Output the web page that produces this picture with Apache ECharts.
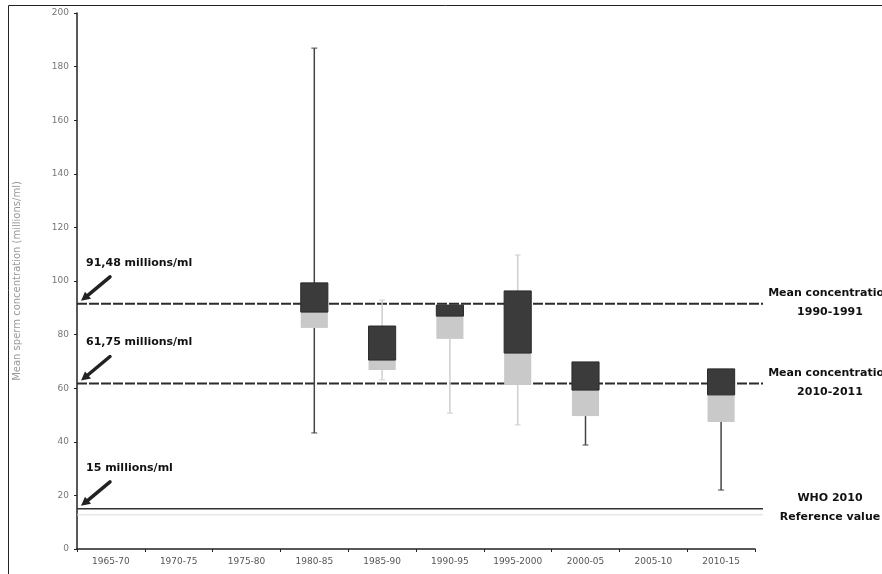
<!DOCTYPE html>
<html>
<head>
<meta charset="utf-8">
<script src="https://cdn.jsdelivr.net/npm/echarts@6/dist/echarts.min.js"></script>
<style>
  html, body { margin: 0; padding: 0; background: #fff; }
  #chart { width: 882px; height: 574px; }
</style>
</head>
<body>
<div id="chart"></div>
<script>
// Period categories on the x axis
const periods = ['1965-70', '1970-75', '1975-80', '1980-85', '1985-90', '1990-95', '1995-2000', '2000-05', '2005-10', '2010-15'];

// Box statistics per period (millions/ml)
const boxPeriods    = ['1980-85', '1985-90', '1990-95', '1995-2000', '2000-05', '2010-15'];
const minValues     = [43.3, 63.1, 50.7, 46.3, 38.8, 22.0];
const lowerQuartile = [82.5, 66.8, 78.4, 61.2, 49.6, 47.4];
const medians       = [88.4, 70.5, 86.9, 73.1, 59.3, 57.5];
const upperQuartile = [99.3, 83.2, 91.0, 96.3, 69.8, 67.2];
const maxValues     = [186.9, 92.9, 91.0, 109.7, 69.8, 67.2];

// Reference concentrations
const refValues = [91.48, 61.75, 15];
const refNotes  = ['91,48 millions/ml', '61,75 millions/ml', '15 millions/ml'];
const refTitles = ['Mean concentration\n1990-1991', 'Mean concentration\n2010-2011', 'WHO 2010\nReference value'];

// Y axis ticks
const yTicks = { min: 0, max: 200, interval: 20 };

// Whisker shade per box
const whiskerShade = ['dark', 'light', 'light', 'light', 'dark', 'dark'];

const DARK = '#3b3b3b';
const LIGHT = '#c9c9c9';

const boxData = boxPeriods.map((p, i) => [p, minValues[i], lowerQuartile[i], medians[i], upperQuartile[i], maxValues[i]]);

function renderBox(params, api) {
  const xIdx = api.value(0);
  const vMin = api.value(1), q1 = api.value(2), med = api.value(3), q3 = api.value(4), vMax = api.value(5);
  const pMin = api.coord([xIdx, vMin]);
  const pQ1 = api.coord([xIdx, q1]);
  const pMed = api.coord([xIdx, med]);
  const pQ3 = api.coord([xIdx, q3]);
  const pMax = api.coord([xIdx, vMax]);
  const w = api.size([1, 0])[0] * 0.4;
  const cx = pMed[0];
  const shade = whiskerShade[params.dataIndex] === 'dark' ? '#444' : '#cfcfcf';
  const children = [];
  // lower whisker
  if (pMin[1] - pQ1[1] > 1) {
    children.push({ type: 'line', shape: { x1: cx, y1: pQ1[1], x2: cx, y2: pMin[1] }, style: { stroke: shade, lineWidth: 1.5 } });
    children.push({ type: 'line', shape: { x1: cx - 3, y1: pMin[1], x2: cx + 3, y2: pMin[1] }, style: { stroke: shade, lineWidth: 1 } });
  }
  // upper whisker
  if (pQ3[1] - pMax[1] > 1) {
    children.push({ type: 'line', shape: { x1: cx, y1: pQ3[1], x2: cx, y2: pMax[1] }, style: { stroke: shade, lineWidth: 1.5 } });
    children.push({ type: 'line', shape: { x1: cx - 3, y1: pMax[1], x2: cx + 3, y2: pMax[1] }, style: { stroke: shade, lineWidth: 1 } });
  }
  // lower half of box (Q1 to median)
  children.push({ type: 'rect', shape: { x: cx - w / 2, y: pMed[1], width: w, height: pQ1[1] - pMed[1] }, style: { fill: LIGHT } });
  // upper half of box (median to Q3)
  children.push({ type: 'rect', shape: { x: cx - w / 2, y: pQ3[1], width: w, height: pMed[1] - pQ3[1] }, style: { fill: DARK, stroke: '#2a2a2a', lineWidth: 1 } });
  return { type: 'group', children };
}

function renderRef(params, api) {
  const value = api.value(1);
  const cs = params.coordSys;
  const y = api.coord([0, value])[1];
  const i = params.dataIndex;
  const x0 = cs.x;
  const x1 = cs.x + cs.width + 8;
  const children = [];
  if (i < 2) {
    children.push({ type: 'line', shape: { x1: x0, y1: y, x2: x1, y2: y }, style: { stroke: '#2b2b2b', lineWidth: 2, lineDash: [10, 2] } });
  } else {
    children.push({ type: 'line', shape: { x1: x0, y1: y, x2: x1, y2: y }, style: { stroke: '#333', lineWidth: 1.5 } });
    children.push({ type: 'line', shape: { x1: x0, y1: y + 6, x2: x1, y2: y + 6 }, style: { stroke: '#dddddd', lineWidth: 1 } });
  }
  // arrow pointing at the line
  children.push({ type: 'line', shape: { x1: x0 + 33, y1: y - 27, x2: x0 + 9, y2: y - 7 }, style: { stroke: '#222', lineWidth: 3.5, lineCap: 'round' } });
  children.push({ type: 'polygon', shape: { points: [[x0 + 4, y - 3], [x0 + 8, y - 12], [x0 + 14, y - 5]] }, style: { fill: '#222' } });
  children.push({ type: 'text', x: x0 + 9, y: y - 41, style: { text: refNotes[i], fill: '#111', font: 'bold 11px "DejaVu Sans"', textAlign: 'left', textVerticalAlign: 'middle' } });
  children.push({ type: 'text', x: x1 + 67, y: y - 1, style: { text: refTitles[i], fill: '#111', font: 'bold 11px "DejaVu Sans"', textAlign: 'center', textVerticalAlign: 'middle', lineHeight: 19 } });
  return { type: 'group', children };
}

const chart = echarts.init(document.getElementById('chart'), null, { renderer: 'canvas' });
chart.setOption({
  backgroundColor: '#fff',
  animation: false,
  graphic: [{
    type: 'rect', left: 6, top: 3, z: 100, silent: true,
    shape: { width: 874, height: 600 },
    style: { fill: 'none', stroke: '#222', lineWidth: 1 }
  }],
  grid: { left: 77, right: 127, top: 13, bottom: 25, containLabel: false },
  xAxis: {
    type: 'category',
    data: periods,
    axisLine: { lineStyle: { color: '#222', width: 1.5 } },
    axisTick: { show: true, length: 3, lineStyle: { color: '#222' } },
    axisLabel: { color: '#555', fontSize: 9, margin: 8, fontFamily: 'DejaVu Sans', interval: 0 },
    splitLine: { show: false }
  },
  yAxis: {
    type: 'value',
    min: yTicks.min, max: yTicks.max, interval: yTicks.interval,
    name: 'Mean sperm concentration (millions/ml)',
    nameLocation: 'middle',
    nameGap: 55,
    nameTextStyle: { color: '#999', fontSize: 10, fontFamily: 'DejaVu Sans' },
    axisLine: { show: true, lineStyle: { color: '#222', width: 1.5 } },
    axisTick: { show: true, length: 3, lineStyle: { color: '#222' } },
    axisLabel: { color: '#777', fontSize: 9, margin: 8, fontFamily: 'DejaVu Sans' },
    splitLine: { show: false }
  },
  series: [
    {
      type: 'custom',
      name: 'reference',
      renderItem: renderRef,
      clip: false,
      data: refValues.map(v => [0, v]),
      encode: { x: 0, y: 1 },
      z: 2
    },
    {
      type: 'custom',
      name: 'concentration',
      renderItem: renderBox,
      data: boxData,
      encode: { x: 0, y: [1, 2, 3, 4, 5] },
      z: 3
    }
  ]
});
</script>
</body>
</html>
